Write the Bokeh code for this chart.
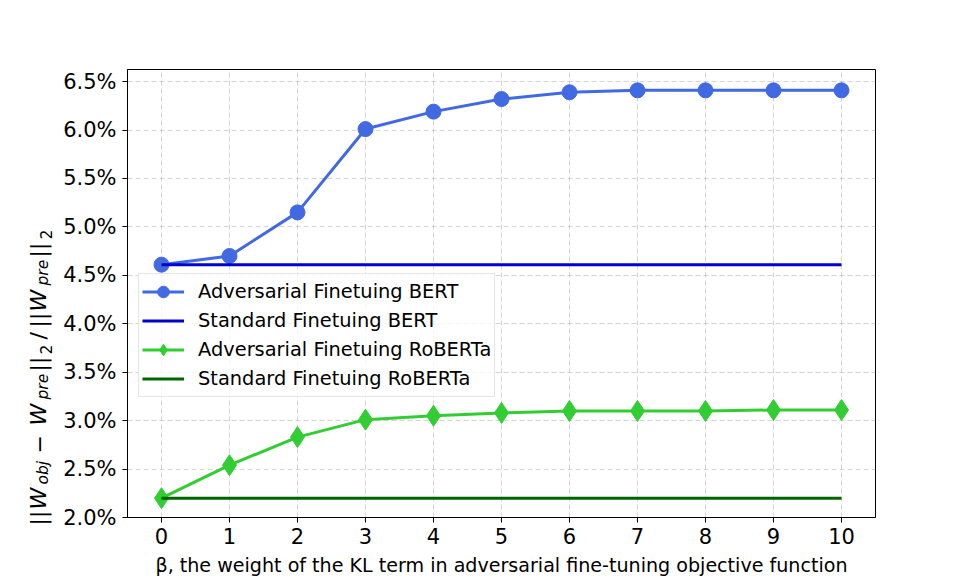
import math
from bokeh.plotting import figure
from bokeh.layouts import row
from bokeh.models import (Legend, LegendItem, FixedTicker, PrintfTickFormatter,
                          Range1d)
from bokeh.core.properties import value
from bokeh.embed import file_html
from bokeh.resources import INLINE

# ---- data -------------------------------------------------------------
beta = [0, 1, 2, 3, 4, 5, 6, 7, 8, 9, 10]
adv_bert = [4.61, 4.70, 5.15, 6.01, 6.19, 6.32, 6.39, 6.41, 6.41, 6.41, 6.41]
std_bert = [4.61, 4.61, 4.61, 4.61, 4.61, 4.61, 4.61, 4.61, 4.61, 4.61, 4.61]
adv_roberta = [2.20, 2.54, 2.83, 3.01, 3.05, 3.08, 3.10, 3.10, 3.10, 3.11, 3.11]
std_roberta = [2.20, 2.20, 2.20, 2.20, 2.20, 2.20, 2.20, 2.20, 2.20, 2.20, 2.20]
x_ticks = [0, 1, 2, 3, 4, 5, 6, 7, 8, 9, 10]
y_ticks = [2.0, 2.5, 3.0, 3.5, 4.0, 4.5, 5.0, 5.5, 6.0, 6.5]
series_names = ["Adversarial Finetuing BERT", "Standard Finetuing BERT",
                "Adversarial Finetuing RoBERTa", "Standard Finetuing RoBERTa"]
x_label = "\u03b2, the weight of the KL term in adversarial fine-tuning objective function"

# ---- layout -----------------------------------------------------------
TOTAL_W, H = 960, 582
LW = 60                                # width of the y-label strip
FL, FT, FR, FB = 121, 69, 875, 517     # frame edges in page px
X0, X1 = -0.5, 10.5
Y0, Y1 = 2.0, 6.625
FONT = "DejaVu Sans"

p = figure(width=TOTAL_W - LW, height=H, output_backend="svg",
           toolbar_location=None,
           x_range=Range1d(X0, X1), y_range=Range1d(Y0, Y1),
           min_border_left=FL - LW, min_border_top=FT,
           min_border_right=TOTAL_W - FR, min_border_bottom=H - FB)
p.background_fill_color = "white"
p.border_fill_color = "white"
p.outline_line_color = "black"
p.outline_line_width = 1

for g in (p.xgrid, p.ygrid):
    g.grid_line_color = "#b0b0b0"
    g.grid_line_alpha = 0.55
    g.grid_line_dash = "5 3"
    g.grid_line_width = 1
p.xgrid.ticker = FixedTicker(ticks=x_ticks)
p.ygrid.ticker = FixedTicker(ticks=y_ticks)

for ax in (p.xaxis[0], p.yaxis[0]):
    ax.axis_line_color = "black"
    ax.major_tick_line_color = "black"
    ax.major_tick_out = 5
    ax.major_tick_in = 0
    ax.minor_tick_line_color = None
    ax.major_label_text_font = FONT
    ax.major_label_text_font_size = "21px"
    ax.major_label_text_color = "black"
p.xaxis.major_label_standoff = 5
p.yaxis.major_label_standoff = 6

p.xaxis.ticker = FixedTicker(ticks=x_ticks)
p.yaxis.ticker = FixedTicker(ticks=y_ticks)
p.yaxis.formatter = PrintfTickFormatter(format="%.1f%%")

p.xaxis.axis_label = x_label
p.xaxis.axis_label_text_font = FONT
p.xaxis.axis_label_text_font_size = "19.1px"
p.xaxis.axis_label_text_font_style = "normal"
p.xaxis.axis_label_text_color = "black"
p.xaxis.axis_label_standoff = 7

# ---- series -----------------------------------------------------------
r1l = p.line(beta, adv_bert, line_color="#4169E1", line_width=3)
r1m = p.scatter(beta, adv_bert, marker="circle", size=15,
                fill_color="#4169E1", line_color="#4169E1")
r2 = p.line(beta, std_bert, line_color="#0000CD", line_width=3)
r3l = p.line(beta, adv_roberta, line_color="#32CD32", line_width=3)
r3m = p.scatter(beta, adv_roberta, marker="diamond", size=21,
                fill_color="#32CD32", line_color="#32CD32")
r4 = p.line(beta, std_roberta, line_color="#006400", line_width=3)

legend = Legend(items=[
    LegendItem(label=series_names[0], renderers=[r1l, r1m]),
    LegendItem(label=series_names[1], renderers=[r2]),
    LegendItem(label=series_names[2], renderers=[r3l, r3m]),
    LegendItem(label=series_names[3], renderers=[r4]),
], location=(11, 120))
legend.label_text_font = FONT
legend.label_text_font_size = "19.4px"
legend.label_text_color = "black"
legend.border_line_color = "#cccccc"
legend.border_line_width = 1
legend.background_fill_color = "white"
legend.background_fill_alpha = 0.8
legend.padding = 3
legend.margin = 0
legend.spacing = 0
legend.glyph_width = 42
legend.glyph_height = 29
legend.label_height = 20
legend.label_standoff = 14
p.add_layout(legend)

# ---- y axis label strip (math-like text built from pieces) ---------------
q = figure(frame_width=LW, frame_height=H, output_backend="svg",
           toolbar_location=None, title=None,
           x_range=Range1d(0, LW), y_range=Range1d(0, H),
           min_border=0, min_border_left=0, min_border_right=0,
           min_border_top=0, min_border_bottom=0,
           x_axis_type=None, y_axis_type=None)
q.grid.visible = False
q.outline_line_color = None
q.background_fill_color = "white"
q.border_fill_color = "white"

MAIN, SUB = 22, 15.5
pieces = [  # text, start (page y, bottom end), baseline (page x), size, italic
    ("||", 456, 38, MAIN, False),
    ("W", 440, 38, MAIN, True),
    ("obj", 415, 42, SUB, True),
    ("\u2212", 384, 38, MAIN, False),
    ("W", 356, 38, MAIN, True),
    ("pre", 330, 42, SUB, True),
    ("||", 302, 38, MAIN, False),
    ("2", 285, 45, SUB, False),
    ("/", 270, 38, MAIN, False),
    ("||", 258, 38, MAIN, False),
    ("W", 242, 38, MAIN, True),
    ("pre", 216, 42, SUB, True),
    ("||", 188, 38, MAIN, False),
    ("2", 170, 45, SUB, False),
]
for t, sy, bx, sz, it in pieces:
    q.text(x=[bx], y=[H - sy], text=[t], angle=math.pi / 2,
           text_align="left", text_baseline="alphabetic",
           text_font=value(FONT), text_font_size=value(f"{sz}px"),
           text_font_style=value("italic" if it else "normal"),
           text_color="black")

layout = row(q, p)
open("out.html", "w").write(file_html(layout, INLINE))
